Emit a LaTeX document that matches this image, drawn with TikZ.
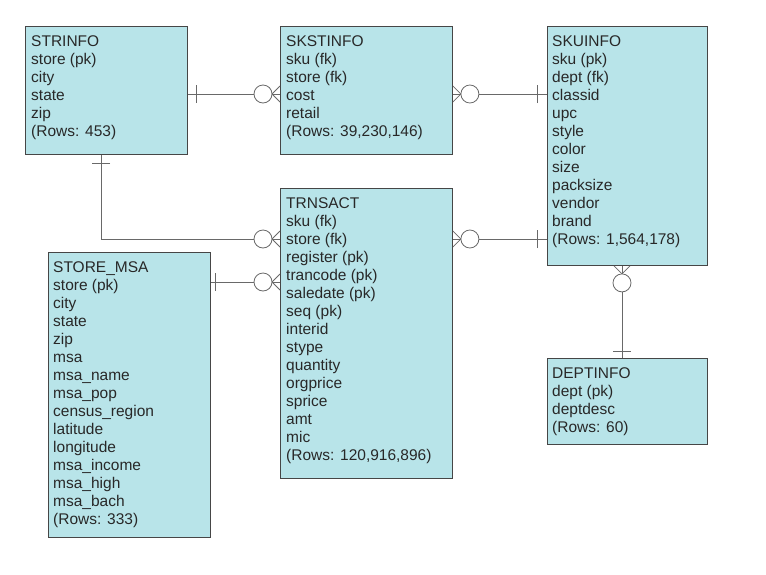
\documentclass[tikz,border=0pt]{standalone}
\usepackage{fontspec}
\setmainfont{Liberation Sans}
\definecolor{boxfill}{RGB}{184,228,233}
\definecolor{boxline}{RGB}{70,70,70}
\definecolor{txt}{RGB}{40,40,40}
\definecolor{connc}{RGB}{105,105,105}
\tikzset{
  tbl/.style={draw=boxline, fill=boxfill, line width=0.9pt, inner sep=0pt, anchor=north west, rectangle},
  tbltext/.style={anchor=north west, inner sep=0pt, align=left, text=txt, font=\fontsize{15.5}{18}\selectfont},
  conn/.style={draw=connc, line width=0.8pt},
  pics/onebar/.style={code={\draw[conn] (#1,-9) -- (#1,9);}},
  pics/onebar/.default=8,
  pics/zeromany/.style={code={
    \draw[conn] (8,0) -- (0,-8) (8,0) -- (0,8);
    \draw[conn, fill=white] (17,0) circle[radius=9];
  }},
}
\begin{document}
\begin{tikzpicture}[x=1pt,y=-1pt]
\useasboundingbox[fill=white] (0,0) rectangle (766,574);
% boxes
\node[tbl, minimum width=162, minimum height=128] (strinfo) at (25,26) {};
\node[tbl, minimum width=172, minimum height=128] (skstinfo) at (280,26) {};
\node[tbl, minimum width=160, minimum height=239] (skuinfo) at (547,26) {};
\node[tbl, minimum width=172, minimum height=290] (trnsact) at (280,188) {};
\node[tbl, minimum width=162, minimum height=285] (storemsa) at (48,252) {};
\node[tbl, minimum width=160, minimum height=86] (deptinfo) at (547,358) {};
% texts
\node[tbltext] (strinfo-t) at ([shift={(6,9)}]strinfo.north west) {STRINFO\\store (pk)\\city\\state\\zip\\(Rows: 453)};
\node[tbltext] (skstinfo-t) at ([shift={(6,9)}]skstinfo.north west) {SKSTINFO\\sku (fk)\\store (fk)\\cost\\retail\\(Rows: 39,230,146)};
\node[tbltext] (skuinfo-t) at ([shift={(5,9)}]skuinfo.north west) {SKUINFO\\sku (pk)\\dept (fk)\\classid\\upc\\style\\color\\size\\packsize\\vendor\\brand\\(Rows: 1,564,178)};
\node[tbltext] (trnsact-t) at ([shift={(6,9)}]trnsact.north west) {TRNSACT\\sku (fk)\\store (fk)\\register (pk)\\trancode (pk)\\saledate (pk)\\seq (pk)\\interid\\stype\\quantity\\orgprice\\sprice\\amt\\mic\\(Rows: 120,916,896)};
\node[tbltext] (storemsa-t) at ([shift={(5,9)}]storemsa.north west) {STORE\_MSA\\store (pk)\\city\\state\\zip\\msa\\msa\_name\\msa\_pop\\census\_region\\latitude\\longitude\\msa\_income\\msa\_high\\msa\_bach\\(Rows: 333)};
\node[tbltext] (deptinfo-t) at ([shift={(5,9)}]deptinfo.north west) {DEPTINFO\\dept (pk)\\deptdesc\\(Rows: 60)};
% helper coordinates
\coordinate (r1) at (0,94);
\coordinate (r2) at (0,239);
\coordinate (r3) at (0,282);
\coordinate (j1) at (101,239);
\coordinate (cx) at (622,0);
% connectors
\draw[conn] (strinfo.east |- r1) -- (skstinfo.west |- r1);
\draw[conn] (skstinfo.east |- r1) -- (skuinfo.west |- r1);
\draw[conn] (trnsact.east |- r2) -- (skuinfo.west |- r2);
\draw[conn] (strinfo.south -| j1) -- (j1) -- (trnsact.west |- j1);
\draw[conn] (storemsa.east |- r3) -- (trnsact.west |- r3);
\draw[conn] (skuinfo.south -| cx) -- (deptinfo.north -| cx);
% ends
\pic at (strinfo.east |- r1) {onebar};
\pic[rotate=180] at (skstinfo.west |- r1) {zeromany};
\pic at (skstinfo.east |- r1) {zeromany};
\pic[rotate=180] at (skuinfo.west |- r1) {onebar=10};
\pic at (trnsact.east |- r2) {zeromany};
\pic[rotate=180] at (skuinfo.west |- r2) {onebar=10};
\pic[rotate=-90] at (strinfo.south -| j1) {onebar};
\pic[rotate=180] at (trnsact.west |- j1) {zeromany};
\pic at (storemsa.east |- r3) {onebar=4};
\pic[rotate=180] at (trnsact.west |- r3) {zeromany};
\pic[rotate=-90] at (skuinfo.south -| cx) {zeromany};
\pic[rotate=90] at (deptinfo.north -| cx) {onebar=7};
\end{tikzpicture}
\end{document}
